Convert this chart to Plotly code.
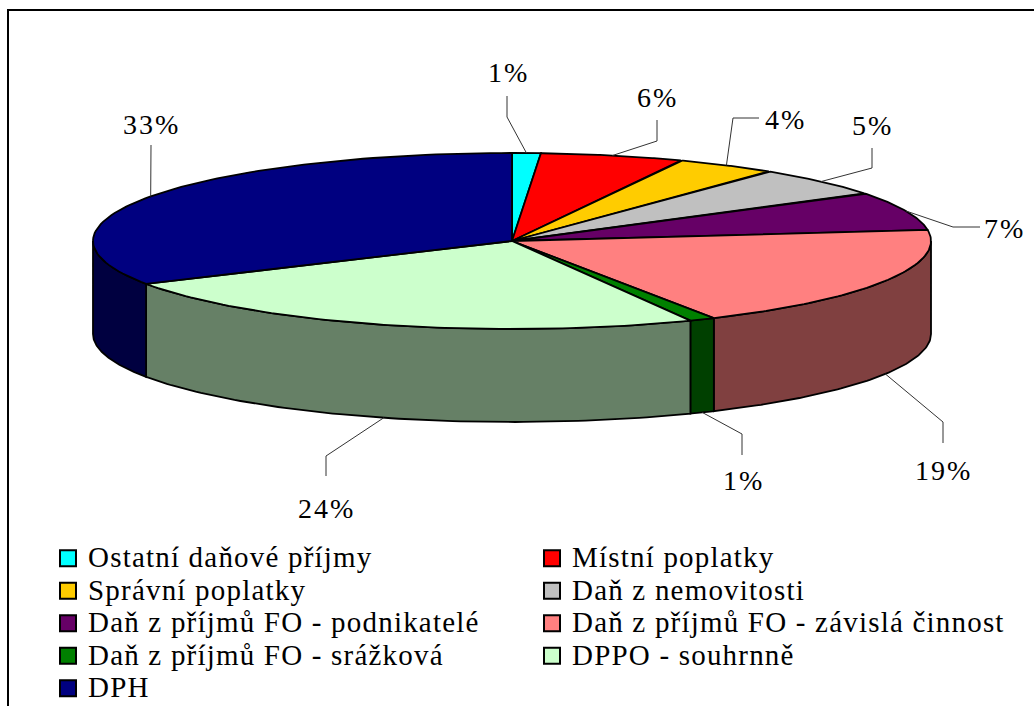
import math
import plotly.graph_objects as go

# ---- data ----
categories = ["Ostatní daňové příjmy", "Místní poplatky", "Správní poplatky", "Daň z nemovitosti",
              "Daň z příjmů FO - podnikatelé", "Daň z příjmů FO - závislá činnost",
              "Daň z příjmů FO - srážková", "DPPO - souhrnně", "DPH"]
values = [1.1, 5.5, 3.9, 5.4, 7.1, 19.0, 1.0, 23.9, 33.1]
value_labels = ["1%", "6%", "4%", "5%", "7%", "19%", "1%", "24%", "33%"]

# ---- styling ----
top_colors = ["#00FFFF", "#FF0000", "#FFCC00", "#C0C0C0", "#660066", "#FF8080", "#008000", "#CCFFCC", "#000080"]
side_colors = ["#008080", "#800000", "#806600", "#606060", "#330033", "#804040", "#004000", "#668066", "#000040"]
W, H = 1034, 706
CX, CY, RX, RY, DEPTH = 512, 241, 419, 88, 93
FONT = "Liberation Serif"
LABEL_SIZE = 28
LEGEND_SIZE = 22.7
# leader geometry: (elbow x, elbow y, end x, end y), label centre (x, y)
leaders = [(507, 117, 507, 96), (657, 141, 657, 120), (733, 118, 759, 118), (872, 168, 872, 148),
           (953, 227, 980, 227), (943, 422, 943, 443), (742, 434, 742, 455), (326, 456, 326, 476),
           (151, 145, 151, 145)]
label_pos = [(508, 72), (657, 97), (785, 119), (872, 125), (1004, 228), (943, 470), (743, 480), (326, 508), (151, 124)]


def pt(t, drop=0.0):
    return CX + RX * math.sin(t), CY - RY * math.cos(t) + drop


def arc(a, b, drop=0.0, n=80):
    return [pt(a + (b - a) * i / n, drop) for i in range(n + 1)]


total = sum(values)
edges = [0.0]
for v in values:
    edges.append(edges[-1] + v / total * 2 * math.pi)

fig = go.Figure()

# side walls (only the front half of the rim is visible)
for i in range(len(values)):
    a = max(edges[i], math.pi / 2)
    b = min(edges[i + 1], 3 * math.pi / 2)
    if b <= a:
        continue
    pts = arc(a, b) + arc(b, a, DEPTH)
    pts.append(pts[0])
    fig.add_trace(go.Scatter(x=[p[0] for p in pts], y=[p[1] for p in pts], mode="lines", fill="toself",
                             fillcolor=side_colors[i], line=dict(color="black", width=1.8),
                             showlegend=False, hoverinfo="skip"))

# top face
for i in range(len(values)):
    pts = [(CX, CY)] + arc(edges[i], edges[i + 1]) + [(CX, CY)]
    fig.add_trace(go.Scatter(x=[p[0] for p in pts], y=[p[1] for p in pts], mode="lines", fill="toself",
                             fillcolor=top_colors[i], line=dict(color="black", width=1.8),
                             showlegend=False, name=categories[i], hoverinfo="name"))

# leader lines and labels
for i in range(len(values)):
    mid = (edges[i] + edges[i + 1]) / 2
    front = math.pi / 2 < mid < 3 * math.pi / 2
    ax, ay = pt(mid, DEPTH if front else 0.0)
    ex, ey, fx, fy = leaders[i]
    fig.add_trace(go.Scatter(x=[ax, ex, fx], y=[ay, ey, fy], mode="lines",
                             line=dict(color="#333333", width=1), showlegend=False, hoverinfo="skip"))
    fig.add_annotation(x=label_pos[i][0], y=label_pos[i][1], text=value_labels[i], showarrow=False,
                       xref="x", yref="y", xanchor="center", yanchor="middle",
                       font=dict(family=FONT, size=LABEL_SIZE, color="black"))

# legend entries
for i, name in enumerate(categories):
    fig.add_trace(go.Scatter(x=[None], y=[None], mode="markers", name=name,
                             marker=dict(symbol="square", size=16, color=top_colors[i],
                                         line=dict(color="black", width=2))))

fig.update_layout(
    width=W, height=H, autosize=False, margin=dict(l=0, r=0, t=0, b=0, autoexpand=False),
    paper_bgcolor="white", plot_bgcolor="white",
    xaxis=dict(range=[0, W], visible=False, fixedrange=True),
    yaxis=dict(range=[H, 0], visible=False, fixedrange=True),
    font=dict(family=FONT, color="black"),
    legend=dict(orientation="h", x=48 / W, y=1 - 537 / H, xanchor="left", yanchor="top",
                entrywidth=439, entrywidthmode="pixels", itemwidth=30, traceorder="normal",
                font=dict(family=FONT, size=LEGEND_SIZE, color="black"), bgcolor="rgba(0,0,0,0)"),
    shapes=[dict(type="rect", xref="x", yref="y", x0=8, y0=10, x1=1040, y1=720,
                 line=dict(color="black", width=2), fillcolor="rgba(0,0,0,0)", layer="below")],
)
post = """
document.documentElement.style.margin='0';
document.body.style.margin='0';
document.body.style.overflow='hidden';
var s=document.createElement('style');
s.textContent='.legendtext{font-size:29px !important;letter-spacing:1.2px;}'
 +'.annotation-text{letter-spacing:2px;}';
document.head.appendChild(s);
"""
fig.write_html("out.html", config=dict(displayModeBar=False), post_script=post)
